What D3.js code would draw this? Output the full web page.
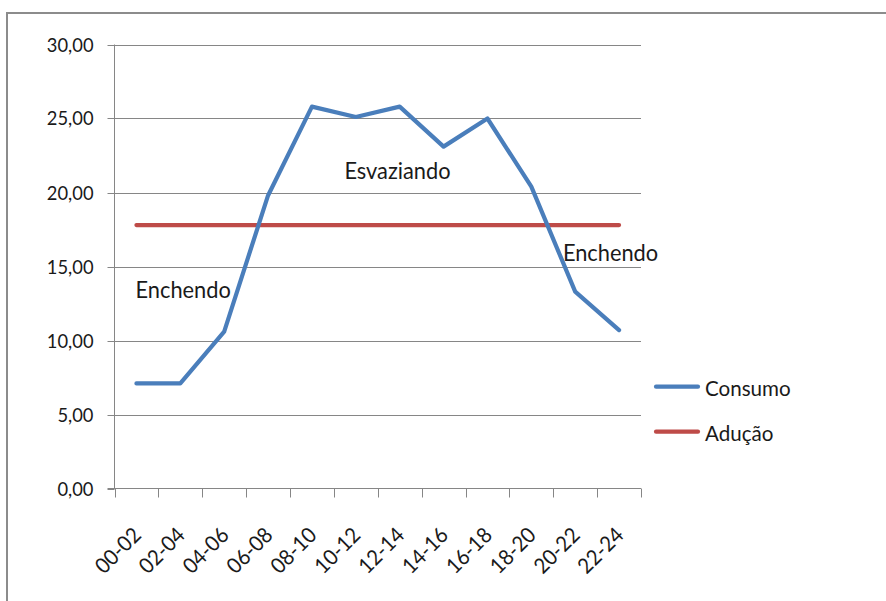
<!DOCTYPE html>
<html>
<head>
<meta charset="utf-8">
<script src="https://cdn.jsdelivr.net/npm/d3@7"></script>
<style>
  html, body { margin: 0; padding: 0; background: #fff; }
  svg { display: block; }
  text { font-family: Lato, "Open Sans", sans-serif; fill: #1a1a1a; }
</style>
</head>
<body>
<svg id="chart" width="886" height="601"></svg>
<script>
// Consumo e adução por faixa horária
const categories = ["00-02","02-04","04-06","06-08","08-10","10-12","12-14","14-16","16-18","18-20","20-22","22-24"];
const consumo = [7.1, 7.1, 10.6, 19.8, 25.8, 25.1, 25.8, 23.1, 25.0, 20.4, 13.3, 10.7];
const aducao  = [17.8, 17.8, 17.8, 17.8, 17.8, 17.8, 17.8, 17.8, 17.8, 17.8, 17.8, 17.8];
const yTicks = [0, 5, 10, 15, 20, 25, 30];
const seriesNames = ["Consumo", "Adução"];
// Rótulos das zonas: posição em unidades de categoria (índice) e valor
const zoneLabels = ["Enchendo", "Esvaziando", "Enchendo"];
const zoneIndex  = [-0.02, 4.74, 9.72];
const zoneValue  = [12.9, 20.9, 15.4];

const blue = "#4A7EBB", red = "#BE4B48", grid = "#868686";
const axisFont = 19.5, catFont = 21.5, noteFont = 23.2, legendFont = 21.9, squeeze = 0.94;

const svg = d3.select("#chart");

// moldura da área do gráfico
svg.append("path")
  .attr("d", "M7,610 L7,13 L900,13")
  .attr("fill", "none").attr("stroke", "#8c8c8c").attr("stroke-width", 2);

const plot = { left: 114.5, right: 641, top: 44.5, bottom: 488.5 };

const x = d3.scaleBand().domain(categories).range([plot.left, plot.right]).padding(0);
const cx = c => x(c) + x.bandwidth() / 2;
const xi = i => x(categories[0]) + x.bandwidth() / 2 + i * x.step();
const y = d3.scaleLinear().domain([0, 30]).range([plot.bottom, plot.top]);

const fmt = v => d3.format(".2f")(v).replace(".", ",");

// linhas de grade horizontais
svg.append("g").selectAll("line").data(yTicks.filter(t => t > 0)).join("line")
  .attr("x1", plot.left).attr("x2", plot.right)
  .attr("y1", d => Math.round(y(d)) + 0.5).attr("y2", d => Math.round(y(d)) + 0.5)
  .attr("stroke", grid).attr("stroke-width", 1);

// eixo Y
const yAxis = svg.append("g").attr("transform", `translate(${plot.left},0)`)
  .call(d3.axisLeft(y).tickValues(yTicks).tickSize(7).tickFormat(fmt));
yAxis.select(".domain").attr("stroke", grid).attr("d", `M0,${plot.top}V${plot.bottom}`);
yAxis.selectAll(".tick line").attr("stroke", grid);
yAxis.selectAll(".tick").attr("transform", d => `translate(0,${Math.round(y(d)) + 0.5})`);
yAxis.selectAll(".tick text")
  .attr("font-size", axisFont).attr("font-family", "Lato")
  .attr("fill", "#1a1a1a").attr("dy", "6.2").attr("x", 0)
  .attr("transform", `translate(-21,0) scale(${squeeze},1)`);

// eixo X
const xAxis = svg.append("g").attr("transform", `translate(0,${plot.bottom})`);
xAxis.append("line").attr("x1", plot.left - 7).attr("x2", plot.right)
  .attr("y1", 0).attr("y2", 0).attr("stroke", grid);
const edges = categories.map(c => x(c)).concat([x(categories[categories.length - 1]) + x.bandwidth()]);
xAxis.selectAll("line.tk").data(edges).join("line").attr("class", "tk")
  .attr("x1", d => Math.round(d) + 0.5).attr("x2", d => Math.round(d) + 0.5)
  .attr("y1", 0).attr("y2", 9).attr("stroke", grid);
xAxis.selectAll("text").data(categories).join("text")
  .attr("transform", d => `translate(${cx(d) + 6},48) rotate(-45) scale(${squeeze},1)`)
  .attr("text-anchor", "end").attr("font-size", catFont)
  .text(d => d);

// séries
const line = d3.line().x((d, i) => cx(categories[i])).y(d => y(d));
svg.append("path").datum(aducao).attr("d", line)
  .attr("fill", "none").attr("stroke", red).attr("stroke-width", 4.2).attr("stroke-linecap", "round");
svg.append("path").datum(consumo).attr("d", line)
  .attr("fill", "none").attr("stroke", blue).attr("stroke-width", 4.2)
  .attr("stroke-linejoin", "round").attr("stroke-linecap", "round");

// rótulos das zonas
zoneLabels.forEach((t, i) => {
  svg.append("text")
    .attr("transform", `translate(${xi(zoneIndex[i])},${y(zoneValue[i])}) scale(${squeeze},1)`)
    .attr("font-size", noteFont).text(t);
});

// legenda
const legendColors = [blue, red];
const legendY = [386.7, 431.7];
const lg = svg.append("g");
seriesNames.forEach((n, i) => {
  lg.append("line").attr("x1", 656).attr("x2", 698).attr("y1", legendY[i]).attr("y2", legendY[i])
    .attr("stroke", legendColors[i]).attr("stroke-width", 4.2).attr("stroke-linecap", "round");
  lg.append("text").attr("transform", `translate(705,${legendY[i] + 9.3}) scale(${squeeze},1)`)
    .attr("font-size", legendFont).text(n);
});
</script>
</body>
</html>
